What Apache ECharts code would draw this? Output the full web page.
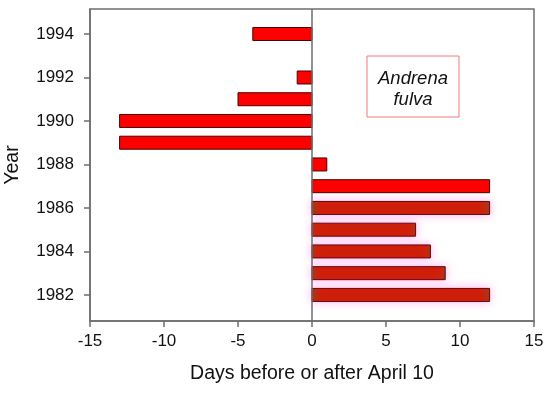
<!DOCTYPE html>
<html>
<head>
<meta charset="utf-8">
<script src="https://cdn.jsdelivr.net/npm/echarts@6/dist/echarts.min.js"></script>
<style>html,body{margin:0;padding:0;background:#fff}#c{width:550px;height:393px}</style>
</head>
<body>
<div id="c"></div>
<script>
var years = [1982, 1983, 1984, 1985, 1986, 1987, 1988, 1989, 1990, 1991, 1992, 1994];
var days = [12, 9, 8, 7, 12, 12, 1, -13, -13, -5, -1, -4];
var highlighted = [1982, 1983, 1984, 1985, 1986];
var yearTicks = [1982, 1984, 1986, 1988, 1990, 1992, 1994];
var xTicks = [-15, -10, -5, 0, 5, 10, 15];

var data = years.map(function (y, i) { return [days[i], y, highlighted.indexOf(y) >= 0 ? 1 : 0]; });

var chart = echarts.init(document.getElementById('c'), null, {renderer: 'canvas'});
var font = 'Liberation Sans, Arial, sans-serif';
chart.setOption({
  animation: false,
  grid: {left: 90, right: 16, top: 9, bottom: 72, outerBoundsMode: 'none', containLabel: false,
    show: true, borderColor: '#6e6e6e', borderWidth: 1.5, backgroundColor: 'transparent'},
  xAxis: {
    type: 'value', min: -15, max: 15, interval: 5,
    name: 'Days before or after April 10', nameLocation: 'middle', nameGap: 43,
    nameTextStyle: {fontFamily: font, fontSize: 19.5, color: '#111'},
    axisLine: {show: true, onZero: false, lineStyle: {color: '#6e6e6e', width: 1.5}},
    axisTick: {show: true, length: 6, lineStyle: {color: '#6e6e6e', width: 1.5}},
    axisLabel: {fontFamily: font, fontSize: 17, color: '#111', margin: 12,
      customValues: xTicks},
    splitLine: {show: false}
  },
  yAxis: {
    type: 'value', min: 1980.8, max: 1995.15,
    name: 'Year', nameLocation: 'middle', nameGap: 67, nameRotate: 90,
    nameTextStyle: {fontFamily: font, fontSize: 19.5, color: '#111'},
    axisLine: {show: true, onZero: false, lineStyle: {color: '#6e6e6e', width: 1.5}},
    axisTick: {show: true, length: 6, customValues: yearTicks, lineStyle: {color: '#6e6e6e', width: 1.5}},
    axisLabel: {fontFamily: font, fontSize: 17, color: '#111', margin: 16, customValues: yearTicks,
      formatter: function (v) { return String(Math.round(v)); }},
    splitLine: {show: false}
  },
  series: [{
    type: 'custom',
    data: data,
    encode: {x: 0, y: 1},
    renderItem: function (params, api) {
      var v = api.value(0), y = api.value(1), hi = api.value(2);
      var p0 = api.coord([0, y]);
      var p1 = api.coord([v, y]);
      var h = 13;
      var x0 = Math.min(p0[0], p1[0]), w = Math.abs(p1[0] - p0[0]);
      var style = hi ? {
        fill: new echarts.graphic.LinearGradient(0, 0, 1, 0, [
          {offset: 0, color: '#9a3a0a'}, {offset: 0.05, color: '#cc1c00'},
          {offset: 0.95, color: '#cc1c00'}, {offset: 1, color: '#9a3a0a'}]),
        stroke: '#6a0010', lineWidth: 1,
        shadowBlur: 8, shadowColor: 'rgba(255,120,230,0.55)'
      } : {fill: '#ff0000', stroke: '#4a0000', lineWidth: 1};
      return {type: 'rect', shape: {x: x0, y: p0[1] - h / 2, width: w, height: h}, style: style};
    },
    z: 2
  }, {
    type: 'line',
    data: [],
    markLine: {
      silent: true, symbol: 'none', label: {show: false},
      lineStyle: {color: '#6e6e6e', width: 1.5, type: 'solid'},
      data: [{xAxis: 0}]
    },
    z: 3
  }],
  graphic: [{
    type: 'rect', shape: {x: 367, y: 56, width: 92, height: 61},
    style: {fill: '#fff', stroke: '#f07a7a', lineWidth: 1}, z: 10
  }, {
    type: 'text', x: 413, y: 79,
    style: {text: 'Andrena', font: 'italic 18.5px ' + font, fill: '#111', align: 'center', verticalAlign: 'middle'}, z: 11
  }, {
    type: 'text', x: 413, y: 100,
    style: {text: 'fulva', font: 'italic 18.5px ' + font, fill: '#111', align: 'center', verticalAlign: 'middle'}, z: 11
  }]
});
</script>
</body>
</html>
